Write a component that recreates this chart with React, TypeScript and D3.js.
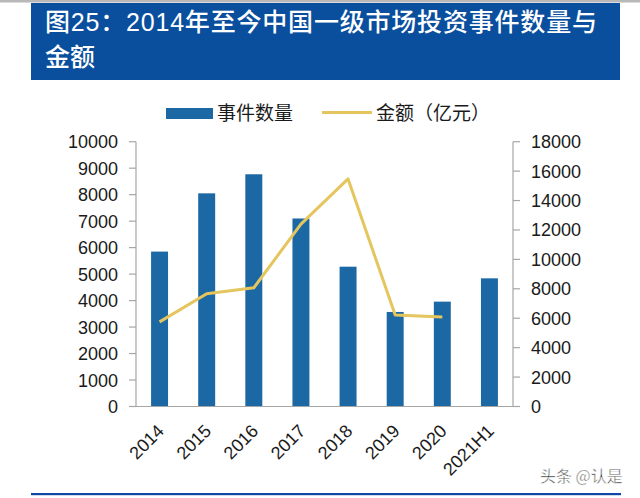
import React from "react";
import * as d3 from "d3";

const categories = ["2014", "2015", "2016", "2017", "2018", "2019", "2020", "2021H1"];
const eventCounts = [5850, 8050, 8770, 7100, 5280, 3570, 3960, 4840];
const amounts: (number | null)[] = [5750, 7660, 8070, 12400, 15470, 6220, 6080, null];
const leftTicks = [0, 1000, 2000, 3000, 4000, 5000, 6000, 7000, 8000, 9000, 10000];
const rightTicks = [0, 2000, 4000, 6000, 8000, 10000, 12000, 14000, 16000, 18000];
const titleLine1 = "图25：2014年至今中国一级市场投资事件数量与";
const titleLine2 = "金额";
const legendBar = "事件数量";
const legendLine = "金额（亿元）";
const watermark = "头条 @认是";

const W = 640;
const H = 498;
const BAR_COLOR = "#1B68A4";
const LINE_COLOR = "#E5C55E";
const TITLE_BG = "#0A4E9E";
const AXIS_COLOR = "#A6A6A6";
const TEXT_COLOR = "#1a1a1a";
const NUM_FONT = "'Liberation Sans', Arial, sans-serif";
const CJK_FONT = "'Noto Sans CJK SC', 'Noto Sans', sans-serif";
const TITLE_FONT = "'Liberation Sans', 'Noto Sans CJK SC', sans-serif";

export default function App() {
  const plotLeft = 136;
  const plotRight = 513;
  const plotTop = 141.7;
  const plotBottom = 406.5;

  const x = d3
    .scaleBand<string>()
    .domain(categories)
    .range([plotLeft, plotRight])
    .paddingInner(0.64)
    .paddingOuter(0.32);
  const yL = d3.scaleLinear().domain([0, 10000]).range([plotBottom, plotTop]);
  const yR = d3.scaleLinear().domain([0, 18000]).range([plotBottom, plotTop]);

  const cx = (c: string) => (x(c) ?? 0) + x.bandwidth() / 2;

  const line = d3
    .line<number | null>()
    .defined((d) => d !== null)
    .x((_, i) => cx(categories[i]))
    .y((d) => yR(d as number));

  return (
    <svg
      width={W}
      height={H}
      style={{ position: "absolute", left: 0, top: 0, background: "#fff" }}
    >
      <rect x={0} y={0} width={W} height={H} fill="#fff" />
      <rect x={0} y={0} width={W} height={2.5} fill="#B8B8B8" />
      <rect x={31} y={3} width={589} height={77} fill={TITLE_BG} />
      <text
        x={45}
        y={31}
        fill="#fff"
        fontFamily={TITLE_FONT}
        fontWeight={500}
        fontSize={25}
        textLength={552}
        lengthAdjust="spacing"
      >
        {titleLine1}
      </text>
      <text x={45} y={66} fill="#fff" fontFamily={CJK_FONT} fontWeight={500} fontSize={25}>
        {titleLine2}
      </text>

      <rect x={166} y={108} width={47} height={11} fill={BAR_COLOR} />
      <text x={217} y={113.5} dy="0.35em" fill={TEXT_COLOR} fontFamily={CJK_FONT} fontSize={19}>
        {legendBar}
      </text>
      <line x1={322} x2={372} y1={112.5} y2={112.5} stroke={LINE_COLOR} strokeWidth={3} />
      <text x={376} y={113.5} dy="0.35em" fill={TEXT_COLOR} fontFamily={CJK_FONT} fontSize={19}>
        {legendLine}
      </text>

      {categories.map((c, i) => (
        <rect
          key={c}
          x={x(c)}
          y={yL(eventCounts[i])}
          width={x.bandwidth()}
          height={plotBottom - yL(eventCounts[i])}
          fill={BAR_COLOR}
        />
      ))}

      <line x1={plotLeft} x2={plotLeft} y1={plotTop} y2={plotBottom} stroke={AXIS_COLOR} strokeWidth={1.2} />
      <line x1={plotRight} x2={plotRight} y1={plotTop} y2={plotBottom} stroke={AXIS_COLOR} strokeWidth={1.2} />
      <line x1={plotLeft} x2={plotRight} y1={plotBottom} y2={plotBottom} stroke={AXIS_COLOR} strokeWidth={1.2} />

      {leftTicks.map((t) => (
        <g key={"l" + t}>
          <line x1={plotLeft - 7} x2={plotLeft} y1={yL(t)} y2={yL(t)} stroke={AXIS_COLOR} strokeWidth={1.2} />
          <text x={118} y={yL(t)} dy="0.36em" textAnchor="end" fill={TEXT_COLOR} fontFamily={NUM_FONT} fontSize={18}>
            {t}
          </text>
        </g>
      ))}
      {rightTicks.map((t) => (
        <g key={"r" + t}>
          <line x1={plotRight} x2={plotRight + 7} y1={yR(t)} y2={yR(t)} stroke={AXIS_COLOR} strokeWidth={1.2} />
          <text x={531} y={yR(t)} dy="0.36em" textAnchor="start" fill={TEXT_COLOR} fontFamily={NUM_FONT} fontSize={18}>
            {t}
          </text>
        </g>
      ))}

      {categories.map((c) => (
        <text
          key={"x" + c}
          transform={`translate(${cx(c) + 1},${plotBottom + 21}) rotate(-45)`}
          dy="0.36em"
          textAnchor="end"
          fill={TEXT_COLOR}
          fontFamily={NUM_FONT}
          fontSize={18}
        >
          {c}
        </text>
      ))}

      <path d={line(amounts) ?? ""} fill="none" stroke={LINE_COLOR} strokeWidth={3} strokeLinejoin="round" />

      <text x={540} y={482} fill="#333" fontFamily={CJK_FONT} fontSize={16} stroke="#fff" strokeWidth={0.5}>
        {watermark}
      </text>

      <rect x={31} y={493} width={590} height={2.2} fill="#1048A8" />
    </svg>
  );
}
